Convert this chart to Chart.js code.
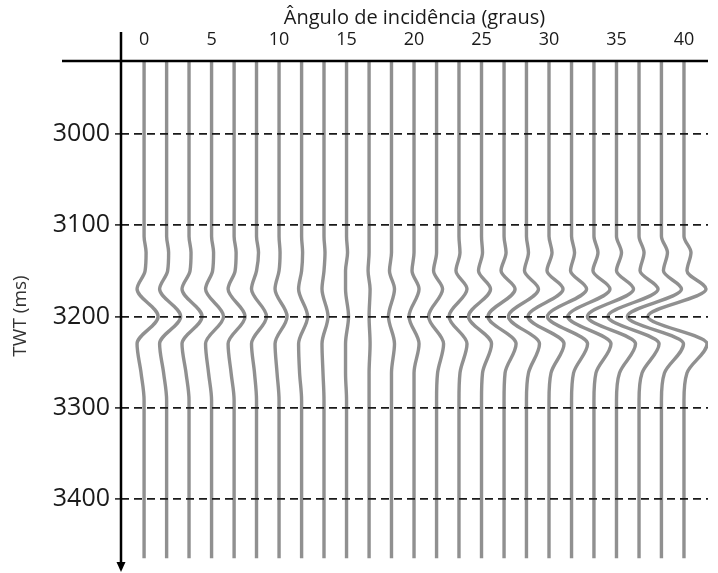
<!DOCTYPE html>
<html>
<head>
<meta charset="utf-8">
<script src="https://cdn.jsdelivr.net/npm/chart.js@4.4.1/dist/chart.umd.min.js"></script>
<style>
  html, body { margin: 0; padding: 0; background: #fff; }
</style>
</head>
<body>
<canvas id="gather" width="718" height="573"></canvas>
<script>
// incidence angle of each of the 25 traces (graus)
const angles = [0, 1.67, 3.33, 5, 6.67, 8.33, 10, 11.67, 13.33, 15, 16.67, 18.33, 20,
                21.67, 23.33, 25, 26.67, 28.33, 30, 31.67, 33.33, 35, 36.67, 38.33, 40];

// TWT ticks (ms) and trace extent
const timeTicks = [3000, 3100, 3200, 3300, 3400];
const traceStart = 2921;
const traceEnd = 3465;
const quietBefore = 3112;
const quietAfter = 3292;

// wiggle amplitudes read per trace at each event time (relative units)
const amp3130 = [2, 2, 2, 2, 2, 2, 1, 1, 1, 1, 0, 0, 0, 0, 1, 1, 2, 2, 3, 3, 4, 5, 5, 6, 7];
const amp3150 = [1, 1, 1, 1, 1, 0, 0, 0, 0, -1, -1, -2, -2, -3, -3, -3, -3, -2, -2, -1, -1, 0, 1, 2, 3];
const amp3170 = [-7, -7, -7, -6, -6, -5, -4, -3, -2, -1, 1, 3, 5, 6, 8, 9, 11, 12, 14, 15, 16, 17, 19, 20, 22];
const amp3200 = [14, 14, 13, 12, 11, 10, 8, 6, 4, 2, 0, -3, -5, -8, -10, -13, -16, -18, -21, -24, -26, -29, -31, -34, -36];
const amp3230 = [-7, -7, -7, -6, -6, -5, -4, -3, -2, -1, 1, 3, 5, 7, 8, 10, 12, 13, 15, 16, 17, 19, 20, 22, 23];
const amp3262 = [-3, -3, -3, -3, -3, -2, -2, -2, -1, -1, 0, 0, 0, 1, 1, 1, 1, 2, 2, 2, 2, 3, 3, 3, 3];

// display gain: amplitude unit -> degrees of deflection
const wiggleGain = 0.0743;

const events = [
  [3130, amp3130], [3150, amp3150], [3170, amp3170],
  [3200, amp3200], [3230, amp3230], [3262, amp3262]
];

const datasets = angles.map((a, i) => {
  const pts = [{ x: a, y: traceStart }, { x: a, y: quietBefore }];
  events.forEach(([t, amp]) => pts.push({ x: a + amp[i] * wiggleGain, y: t }));
  pts.push({ x: a, y: quietAfter }, { x: a, y: traceEnd });
  return {
    data: pts,
    borderColor: 'rgba(125,125,125,0.85)',
    borderWidth: 3.4,
    pointRadius: 0,
    fill: false,
    cubicInterpolationMode: 'monotone'
  };
});

// axis lines: cross at the top-left, arrow pointing down
const axisLines = {
  id: 'axisLines',
  afterDraw(chart) {
    const { ctx, chartArea: { left, top, right, bottom } } = chart;
    ctx.save();
    ctx.strokeStyle = '#000';
    ctx.lineWidth = 2.5;
    ctx.beginPath();
    ctx.moveTo(left - 59, top - 1);
    ctx.lineTo(right, top - 1);
    ctx.moveTo(left, top - 30);
    ctx.lineTo(left, bottom - 6);
    ctx.stroke();
    ctx.fillStyle = '#000';
    ctx.beginPath();
    ctx.moveTo(left - 4.5, bottom - 8);
    ctx.lineTo(left + 4.5, bottom - 8);
    ctx.lineTo(left, bottom + 2);
    ctx.closePath();
    ctx.fill();
    ctx.restore();
  }
};

Chart.defaults.font.family = "'Open Sans', sans-serif";
Chart.defaults.color = '#1a1a1a';

new Chart(document.getElementById('gather'), {
  type: 'line',
  data: { datasets },
  options: {
    responsive: false,
    animation: false,
    devicePixelRatio: 1,
    indexAxis: 'y',
    layout: { padding: { left: 0, top: 0, right: 10, bottom: 3 } },
    plugins: { legend: { display: false }, tooltip: { enabled: false } },
    scales: {
      x: {
        type: 'linear',
        position: 'top',
        min: -1.71,
        max: 41.78,
        afterFit: s => { s.height = 62; s.paddingLeft = 0; s.paddingRight = 0; },
        grid: { display: false, drawTicks: false },
        border: { display: false },
        ticks: {
          stepSize: 5,
          includeBounds: false,
          padding: 11,
          font: { size: 18 },
          color: '#1a1a1a'
        },
        title: {
          display: true,
          text: 'Ângulo de incidência (graus)',
          font: { size: 20 },
          color: '#1a1a1a',
          padding: { top: 6, bottom: 0 }
        }
      },
      y: {
        type: 'linear',
        reverse: true,
        min: traceStart,
        max: 3478,
        afterFit: s => { s.width = 121; s.paddingTop = 0; s.paddingBottom = 0; },
        afterBuildTicks: s => { s.ticks = timeTicks.map(v => ({ value: v })); },
        grid: {
          color: '#1a1a1a',
          lineWidth: 1.8,
          tickLength: 6,
          tickColor: '#1a1a1a',
          tickWidth: 1.5,
          z: 1
        },
        border: { display: false, dash: [8, 5] },
        ticks: {
          padding: 5,
          font: { size: 25 },
          color: '#1a1a1a',
          callback: v => String(v)
        },
        title: {
          display: true,
          text: 'TWT (ms)',
          font: { size: 19 },
          color: '#333',
          padding: { top: 9, bottom: 0 }
        }
      }
    }
  },
  plugins: [axisLines]
});
</script>
</body>
</html>
